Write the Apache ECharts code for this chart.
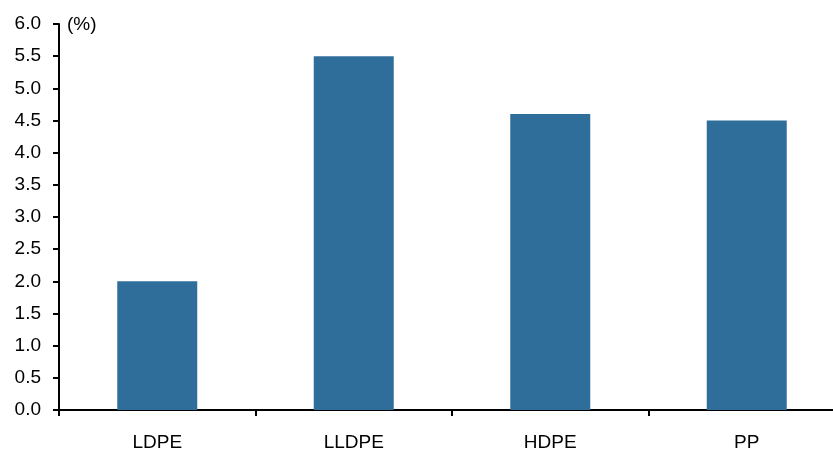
<!DOCTYPE html>
<html>
<head>
<meta charset="utf-8">
<script src="https://cdn.jsdelivr.net/npm/echarts@6/dist/echarts.min.js"></script>
<style>
  html, body { margin: 0; padding: 0; background: #fff; overflow: hidden; }
  /* The canvas is a little wider than the view, so the last category runs off the right edge */
  #chart { width: 845px; height: 452px; }
</style>
</head>
<body>
<div id="chart"></div>
<script>
// Resin categories and their growth rates (%)
const categories = ['LDPE', 'LLDPE', 'HDPE', 'PP'];
const values = [2.0, 5.5, 4.6, 4.5];
const yMin = 0;
const yMax = 6;
const yStep = 0.5;

const chart = echarts.init(document.getElementById('chart'));
const font = 'Liberation Sans, Arial, sans-serif';

chart.setOption({
  animation: false,
  grid: { left: 59, right: 0, top: 24, bottom: 42, containLabel: false },
  xAxis: {
    type: 'category',
    data: categories,
    axisLine: { lineStyle: { color: '#000', width: 2 } },
    axisTick: { show: true, length: 6, lineStyle: { color: '#000', width: 2 } },
    axisLabel: { color: '#000', fontSize: 19, fontFamily: font, margin: 23 },
    splitLine: { show: false }
  },
  yAxis: {
    type: 'value',
    min: yMin,
    max: yMax,
    interval: yStep,
    axisLine: { show: true, lineStyle: { color: '#000', width: 2 } },
    axisTick: { show: true, length: 6, lineStyle: { color: '#000', width: 2 } },
    axisLabel: {
      color: '#000', fontSize: 19, fontFamily: font, margin: 18,
      formatter: v => v.toFixed(1)
    },
    splitLine: { show: false }
  },
  graphic: [{
    type: 'text',
    left: 67,
    top: 15,
    style: { text: '(%)', fill: '#000', font: '19px ' + font }
  }],
  series: [{
    type: 'bar',
    data: values,
    barWidth: 80,
    itemStyle: { color: '#2F6E9B' }
  }]
});
</script>
</body>
</html>
